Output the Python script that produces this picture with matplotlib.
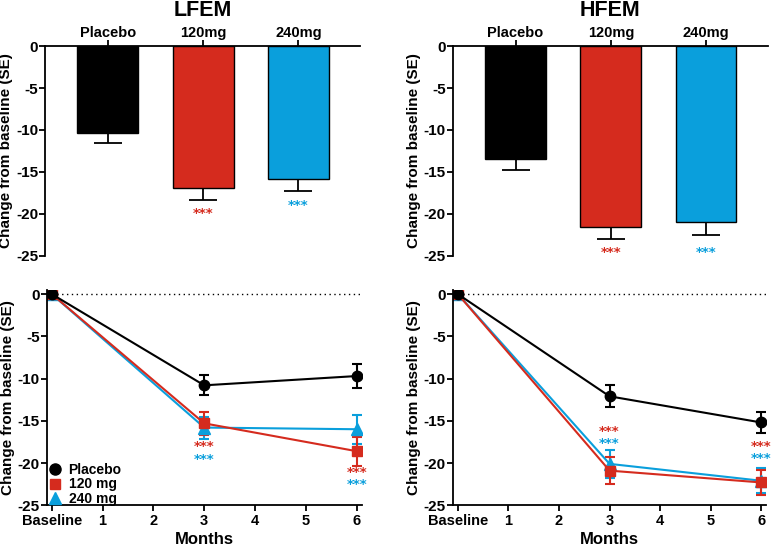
import numpy as np
import matplotlib
matplotlib.use('Agg')
import matplotlib.pyplot as plt

plt.rcParams['font.family'] = ['Liberation Sans', 'DejaVu Sans']
plt.rcParams['font.weight'] = 'bold'
plt.rcParams['axes.unicode_minus'] = False

RED = '#d52b1e'
BLUE = '#0a9fdc'
BLACK = '#000000'

#%% Data
groups = ['Placebo', '120mg', '240mg']
bar_colors = [BLACK, RED, BLUE]

lfem_bar = [-10.3, -16.9, -15.8]
lfem_bar_err = [1.2, 1.4, 1.5]
hfem_bar = [-13.5, -21.6, -21.0]
hfem_bar_err = [1.3, 1.4, 1.5]

months = [0, 3, 6]
month_ticks = [0, 1, 2, 3, 4, 5, 6]
month_labels = ['Baseline', '1', '2', '3', '4', '5', '6']

lfem_placebo = [0, -10.8, -9.7]
lfem_placebo_err = [0, 1.2, 1.4]
lfem_120 = [0, -15.3, -18.6]
lfem_120_err = [0, 1.4, 1.7]
lfem_240 = [0, -15.8, -16.0]
lfem_240_err = [0, 1.3, 1.7]

hfem_placebo = [0, -12.1, -15.2]
hfem_placebo_err = [0, 1.3, 1.2]
hfem_120 = [0, -20.9, -22.3]
hfem_120_err = [0, 1.6, 1.5]
hfem_240 = [0, -20.1, -22.1]
hfem_240_err = [0, 1.7, 1.5]

# significance stars (x, y, colour)
lfem_bar_stars = [(1, -20.0, RED), (2, -19.0, BLUE)]
hfem_bar_stars = [(1, -24.6, RED), (2, -24.6, BLUE)]
lfem_line_stars = [(3, -18.1, RED), (3, -19.6, BLUE), (6, -21.1, RED), (6, -22.55, BLUE)]
hfem_line_stars = [(3, -16.3, RED), (3, -17.7, BLUE), (6, -18.1, RED), (6, -19.5, BLUE)]

fig = plt.figure(figsize=(7.78, 5.48), dpi=100)

ax_tl = fig.add_axes([0.058, 0.533, 0.405, 0.383])
ax_tr = fig.add_axes([0.582, 0.533, 0.405, 0.383])
ax_bl = fig.add_axes([0.060, 0.078, 0.405, 0.393])
ax_br = fig.add_axes([0.582, 0.078, 0.403, 0.393])


def star(ax, x, y, c):
    ax.text(x, y, '***', color=c, ha='center', va='center', fontsize=9.5,
            fontweight='bold', family='DejaVu Sans')


def bar_panel(ax, vals, errs, stars, title):
    x = np.arange(len(groups))
    ax.bar(x, vals, width=0.64, color=bar_colors, edgecolor='black', linewidth=1.0, zorder=2)
    ax.errorbar(x, vals, yerr=[errs, [0] * len(errs)], fmt='none', ecolor='black',
                elinewidth=1.3, capsize=10, capthick=1.3, zorder=1)
    ax.set_xlim(-0.66, 2.65)
    ax.set_ylim(-25, 0)
    ax.set_yticks([0, -5, -10, -15, -20, -25])
    ax.xaxis.tick_top()
    ax.set_xticks(x)
    ax.set_xticklabels(groups, fontsize=10.5, fontweight='bold')
    ax.spines['bottom'].set_visible(False)
    ax.spines['right'].set_visible(False)
    ax.spines['top'].set_linewidth(1.3)
    ax.spines['left'].set_linewidth(1.3)
    ax.tick_params(axis='x', length=4, width=1.3, pad=0.5)
    ax.tick_params(axis='y', length=4, width=1.3, labelsize=11, pad=1)
    for lab in ax.get_yticklabels():
        lab.set_fontweight('bold')
    ax.set_ylabel('Change from baseline (SE)', fontsize=11, fontweight='bold', labelpad=2)
    ax.text(0.5, 1.168, title, transform=ax.transAxes, ha='center', va='center',
            fontsize=15.5, fontweight='bold')
    for sx, sy, c in stars:
        star(ax, sx, sy, c)


def line_panel(ax, series, stars):
    ax.axhline(0, color='black', linestyle=(0, (1, 2.5)), linewidth=1.0, zorder=0)
    for vals, errs, c, m, ms, lab in series:
        ax.errorbar(months, vals, yerr=errs, color=c, marker=m, markersize=ms,
                    linewidth=1.5, elinewidth=1.5, capsize=3.5, capthick=1.5, label=lab)
    ax.set_xlim(-0.1, 6.1)
    ax.set_ylim(-25, 0.5)
    ax.set_yticks([0, -5, -10, -15, -20, -25])
    ax.set_xticks(month_ticks)
    ax.set_xticklabels(month_labels)
    ax.spines['top'].set_visible(False)
    ax.spines['right'].set_visible(False)
    ax.spines['bottom'].set_linewidth(1.3)
    ax.spines['left'].set_linewidth(1.3)
    ax.tick_params(axis='y', length=4, width=1.3, labelsize=11, pad=1)
    ax.tick_params(axis='x', length=4, width=1.3, labelsize=10.5, pad=2)
    for lab in ax.get_yticklabels() + ax.get_xticklabels():
        lab.set_fontweight('bold')
    ax.set_ylabel('Change from baseline (SE)', fontsize=11, fontweight='bold', labelpad=2)
    ax.set_xlabel('Months', fontsize=12, fontweight='bold', labelpad=3)
    for sx, sy, c in stars:
        star(ax, sx, sy, c)


bar_panel(ax_tl, lfem_bar, lfem_bar_err, lfem_bar_stars, 'LFEM')
bar_panel(ax_tr, hfem_bar, hfem_bar_err, hfem_bar_stars, 'HFEM')

line_panel(ax_bl, [
    (lfem_240, lfem_240_err, BLUE, '^', 8, '240 mg'),
    (lfem_120, lfem_120_err, RED, 's', 7, '120 mg'),
    (lfem_placebo, lfem_placebo_err, BLACK, 'o', 7.5, 'Placebo'),
], lfem_line_stars)
line_panel(ax_br, [
    (hfem_240, hfem_240_err, BLUE, '^', 8, '240 mg'),
    (hfem_120, hfem_120_err, RED, 's', 7, '120 mg'),
    (hfem_placebo, hfem_placebo_err, BLACK, 'o', 7.5, 'Placebo'),
], hfem_line_stars)

# legend in order Placebo, 120, 240 (markers only)
h, l = ax_bl.get_legend_handles_labels()
order = [2, 1, 0]
hs = [plt.Line2D([], [], color=h[i][0].get_color(), marker=h[i][0].get_marker(),
                 markersize=h[i][0].get_markersize() + 0.5, linestyle='none') for i in order]
ax_bl.legend(hs, [l[i] for i in order], loc='lower left', bbox_to_anchor=(-0.01, -0.03),
             frameon=False, handlelength=0.8, handletextpad=0.6, labelspacing=0.05,
             borderaxespad=0.0, prop={'weight': 'bold', 'size': 10})

fig.savefig('out.png', dpi=100)
